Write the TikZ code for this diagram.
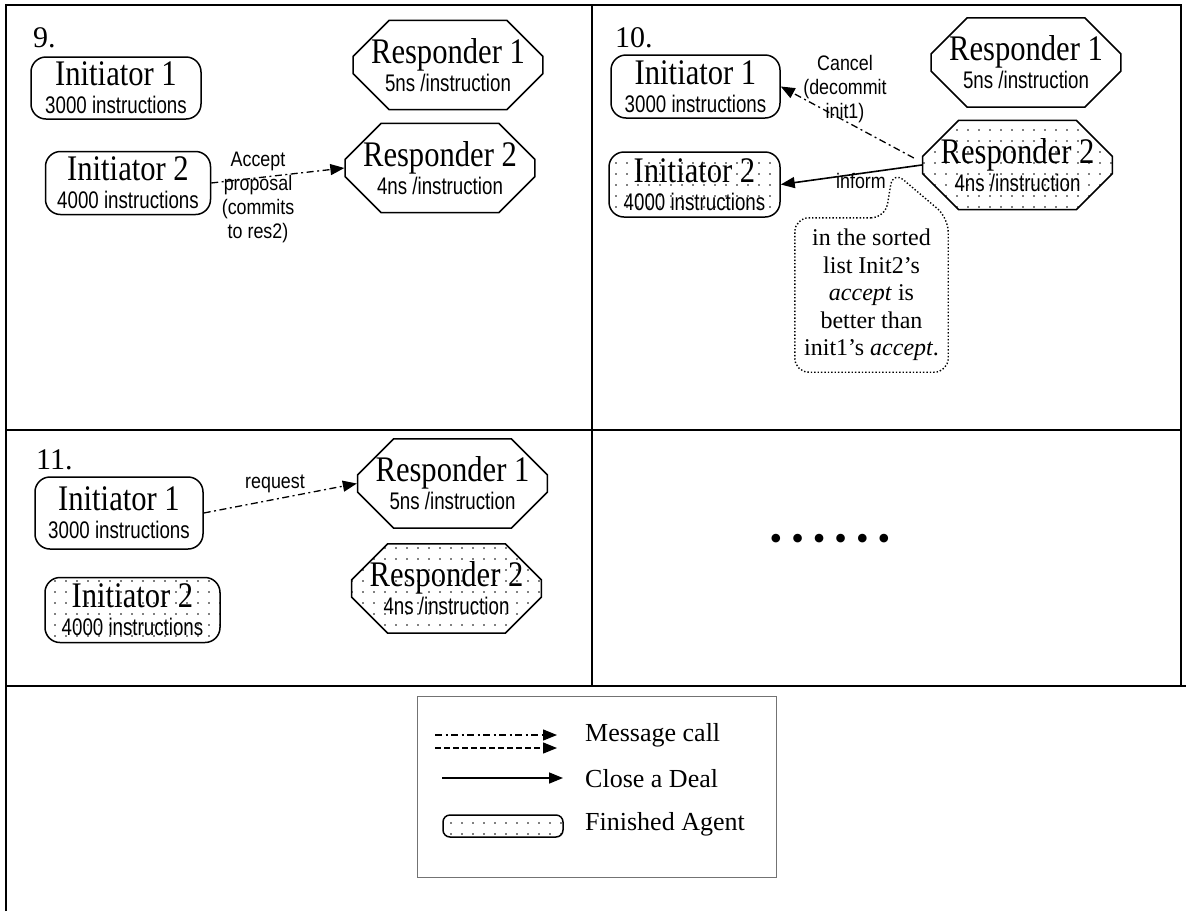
\documentclass[tikz,border=0pt]{standalone}
\usepackage{fontspec}
\setmainfont{Liberation Serif}
\newfontfamily\titlefont[FakeStretch=0.85]{Liberation Serif}
\newfontfamily\narrowsf[FakeStretch=0.78]{Liberation Sans}
\newfontfamily\labelsf[FakeStretch=0.85]{Liberation Sans}
\usetikzlibrary{shapes.misc,arrows.meta,patterns.meta}

\newcommand{\agentname}[1]{{\titlefont\fontsize{36}{28}\selectfont #1}}

\begin{document}
\begin{tikzpicture}[x=1pt,y=-1pt,
  frame/.style={line width=1.4pt},
  agent/.style={draw, line width=1.5pt, align=center, inner sep=0pt,
    font=\narrowsf\fontsize{24}{28}\selectfont},
  initbox/.style={agent, rounded corners=15pt},
  respbox/.style={agent, chamfered rectangle,
    chamfered rectangle xsep=18pt, chamfered rectangle ysep=18pt},
  done/.style={pattern={Dots[distance=11pt,radius=0.9pt]}},
  msglabel/.style={font=\labelsf\fontsize{21}{24}\selectfont, align=center, inner sep=0pt},
  panelno/.style={font=\fontsize{30}{30}\selectfont, anchor=base west, inner sep=0pt},
  tip/.style={-{Triangle[length=14pt,width=11pt]}},
  msg/.style={tip, line width=1.3pt, dash pattern=on 7pt off 3.5pt on 2pt off 3.5pt},
  msgdash/.style={tip, line width=1.3pt, dash pattern=on 6pt off 3pt},
  deal/.style={tip, line width=1.6pt},
  legendtext/.style={font=\fontsize{26}{26}\selectfont, anchor=west, inner sep=0pt}]

\useasboundingbox (0,0) rectangle (1186,911);
\fill[white] (0,0) rectangle (1186,911);

% grid of panels
\draw[frame] (6,911) -- (6,5) -- (1181,5) -- (1181,686);
\draw[frame] (592,5) -- (592,686);
\draw[frame] (6,430) -- (1181,430);
\draw[frame] (6,686) -- (1186,686);

% ---------- step 9 ----------
\node[panelno] (n9) at (33,47) {9.};
\node[initbox, minimum width=170pt, minimum height=62pt] (i1a) at (116,88)
  {\agentname{Initiator 1}\\3000 instructions};
\node[respbox, minimum width=188pt, minimum height=72pt] (r1a) at (448,65)
  {\agentname{Responder 1}\\5ns /instruction};
\node[initbox, minimum width=165pt, minimum height=63pt] (i2a) at (128,183)
  {\agentname{Initiator 2}\\4000 instructions};
\node[respbox, minimum width=186pt, minimum height=75pt] (r2a) at (440,168)
  {\agentname{Responder 2}\\4ns /instruction};
\draw[msg] (i2a.east) -- (r2a.west);
\node[msglabel] (l9) at (258,197) {Accept\\proposal\\(commits\\to res2)};

% ---------- step 10 ----------
\node[panelno] (n10) at (615,47) {10.};
\node[initbox, minimum width=169pt, minimum height=63pt] (i1b) at (695.5,86.5)
  {\agentname{Initiator 1}\\3000 instructions};
\node[respbox, minimum width=184pt, minimum height=71pt] (r1b) at (1026,62.5)
  {\agentname{Responder 1}\\5ns /instruction};
\node[respbox, done, minimum width=183pt, minimum height=84pt] (r2b) at (1017.5,165)
  {\agentname{Responder 2}\\4ns /instruction};
\node[initbox, done, minimum width=171pt, minimum height=65pt] (i2b) at (694.5,184.5)
  {\agentname{Initiator 2}\\4000 instructions};
\draw[msg] ([xshift=-8pt,yshift=7pt]r2b.west) -- (i1b.east);
\node[msglabel] (l10) at (845,89) {Cancel\\(decommit\\init1)};
\draw[deal] (r2b.west) -- (i2b.east);
\node[msglabel] (l10b) at (861,181) {inform};

% remark balloon hanging from the inform message
\coordinate (balloontip) at (893,171);
\node[align=center, inner sep=0pt, minimum width=153pt, minimum height=154pt,
  font=\fontsize{24}{27.5}\selectfont] (note) at (871.5,295)
  {in the sorted\\list Init2’s\\\textit{accept} is\\better than\\init1’s \textit{accept}.};
\draw[dotted, line width=1.4pt, rounded corners=14pt]
  ([xshift=-63pt]note.north east) -- (note.north west) -- (note.south west)
  -- (note.south east) -- (note.north east) -- (balloontip) -- cycle;

% ---------- step 11 ----------
\node[panelno] (n11) at (36,469) {11.};
\node[initbox, minimum width=168pt, minimum height=72pt] (i1c) at (119,513)
  {\agentname{Initiator 1}\\3000 instructions};
\node[respbox, minimum width=181pt, minimum height=83pt] (r1c) at (452.5,483.5)
  {\agentname{Responder 1}\\5ns /instruction};
\node[initbox, done, minimum width=175pt, minimum height=65pt] (i2c) at (132.5,610)
  {\agentname{Initiator 2}\\4000 instructions};
\node[respbox, done, minimum width=187pt, minimum height=83pt] (r2c) at (446.5,588.5)
  {\agentname{Responder 2}\\4ns /instruction};
\draw[msg] (i1c.east) -- (r1c.west);
\node[msglabel] (l11) at (275,484) {request};

% ---------- further steps ----------
\node[font=\fontsize{36}{36}\selectfont, inner sep=0pt] (more) at (830,542)
  {•\hspace{9pt}•\hspace{9pt}•\hspace{9pt}•\hspace{9pt}•\hspace{9pt}•};

% ---------- legend ----------
\node[draw=black!55, line width=1pt, minimum width=359pt, minimum height=181pt,
  inner sep=0pt] (legend) at (596.5,786.5) {};
\coordinate (m1s) at (435,735);  \coordinate (m1e) at (557,735);
\coordinate (m2s) at (435,748);  \coordinate (m2e) at (557,748);
\coordinate (cds) at (442,778);  \coordinate (cde) at (563,778);
\draw[msg] (m1s) -- (m1e);
\draw[msgdash] (m2s) -- (m2e);
\draw[deal] (cds) -- (cde);
\node[legendtext] (tmsg) at (585,735) {Message call};
\node[legendtext] (tdeal) at (585,779) {Close a Deal};
\node[draw, done, line width=1.5pt, rounded corners=7pt, minimum width=120pt,
  minimum height=22pt, inner sep=0pt] (sample) at (503,826) {};
\node[legendtext] (tdone) at (585,824) {Finished Agent};
\end{tikzpicture}
\end{document}
